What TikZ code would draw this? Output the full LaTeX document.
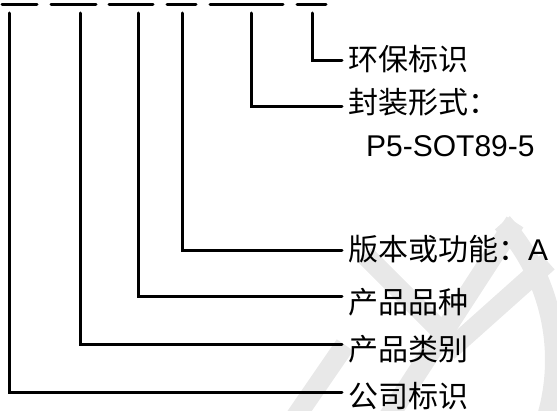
\documentclass[tikz,border=0pt]{standalone}
\usepackage{fontspec}
\setmainfont{Liberation Sans}
\newfontfamily\cjk{Noto Sans CJK SC}
\definecolor{wm}{RGB}{232,232,232}
\begin{document}
\begin{tikzpicture}[x=1pt,y=-1pt,
  lead/.style={line width=3pt,line cap=round},
  lbl/.style={anchor=base west,inner sep=0pt,font=\cjk\fontsize{30}{36}\selectfont},
  latinlbl/.style={anchor=base west,inner sep=0pt,font=\rmfamily\fontsize{30}{36}\selectfont},
  wmband/.style={wm,line width=20pt}]
\useasboundingbox (0,0) rectangle (557,411);
% watermark
\begin{scope}
\clip (0,0) rectangle (557,411);
\draw[wmband] (515,222) -- (380,430);
\draw[wmband] (365,255) -- (455,345) -- (548,262);
\draw[wmband] (290,425) -- (345,345);
\draw[wmband] (350,360) ++(-42:205) arc[start angle=-42,end angle=20,radius=205];
\end{scope}
% dashes of the part-number template
\foreach \i/\a/\b in {1/2/37,2/51/96,3/109/153,4/167/196,5/210/283,6/297/326}{
  \coordinate (da\i) at (\a,5);
  \coordinate (db\i) at (\b,5);
  \draw[lead] (da\i) -- (db\i);
}
% lead tops and ends
\coordinate (t1) at (9.5,13);   \coordinate (e1) at (342,393);
\coordinate (t2) at (80.5,13);  \coordinate (e2) at (342,345);
\coordinate (t3) at (138.5,13); \coordinate (e3) at (342,297);
\coordinate (t4) at (182,13);   \coordinate (e4) at (342,251);
\coordinate (t5) at (251,13);   \coordinate (e5) at (342,107);
\coordinate (t6) at (312,13);   \coordinate (e6) at (342,61);
\foreach \i in {1,...,6}{\draw[lead] (t\i) |- (e\i);}
% labels
\node[lbl] (n6) at (348,70.4) {环保标识};
\node[lbl] (n5) at (348,113.4) {封装形式：};
\node[latinlbl] (n5b) at (366,157) {P5-SOT89-5};
\node[lbl] (n4) at (348,260.4) {版本或功能：{\rmfamily A}};
\node[lbl] (n3) at (348,314) {产品品种};
\node[lbl] (n2) at (348,361) {产品类别};
\node[lbl] (n1) at (348,408) {公司标识};
\end{tikzpicture}
\end{document}
